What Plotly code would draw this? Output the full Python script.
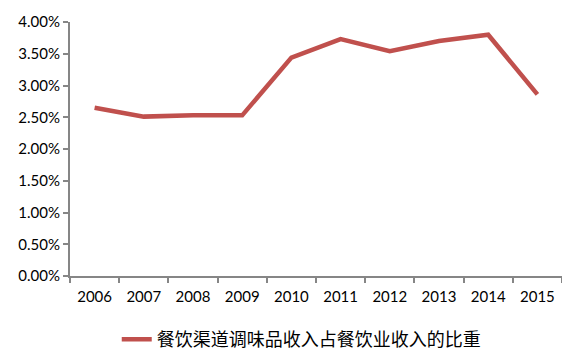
import plotly.graph_objects as go

years = ["2006", "2007", "2008", "2009", "2010", "2011", "2012", "2013", "2014", "2015"]
share = [0.0265, 0.0251, 0.0253, 0.0253, 0.0344, 0.0373, 0.0354, 0.0370, 0.0380, 0.0286]
series_name = "餐饮渠道调味品收入占餐饮业收入的比重"
y_ticks = [0, 0.005, 0.01, 0.015, 0.02, 0.025, 0.03, 0.035, 0.04]

fig = go.Figure()
fig.add_trace(go.Scatter(
    x=years, y=share, mode="lines", name=series_name,
    line=dict(color="#C0504D", width=4.5),
))

axis_color = "#868686"
fig.update_layout(
    width=562, height=355,
    margin=dict(l=62, r=8, t=14, b=87, autoexpand=False),
    paper_bgcolor="white", plot_bgcolor="white",
    font=dict(family="Lato, 'Noto Sans CJK SC', sans-serif", color="#000000", size=15),
    showlegend=True,
    legend=dict(
        orientation="h", x=0.47, xanchor="center", y=-0.25, yanchor="middle",
        font=dict(family="'Noto Sans CJK SC', sans-serif", size=18, color="#000000"),
        bgcolor="rgba(0,0,0,0)",
    ),
    xaxis=dict(
        type="category", range=[-0.5, 9.5], automargin=False,
        showline=True, linecolor=axis_color, linewidth=2,
        ticks="outside", tickson="boundaries", ticklen=5, tickcolor=axis_color, tickwidth=2,
        showgrid=False, zeroline=False, ticklabelstandoff=6,
        tickfont=dict(family="Lato, sans-serif", size=15),
    ),
    yaxis=dict(
        range=[0, 0.04], tickvals=y_ticks, tickformat=".2%", automargin=False,
        showline=True, linecolor=axis_color, linewidth=2,
        ticks="outside", ticklen=5, tickcolor=axis_color, tickwidth=2,
        showgrid=False, zeroline=False,
        tickfont=dict(family="Lato, sans-serif", size=15),
    ),
)

fig.write_html("out.html")
